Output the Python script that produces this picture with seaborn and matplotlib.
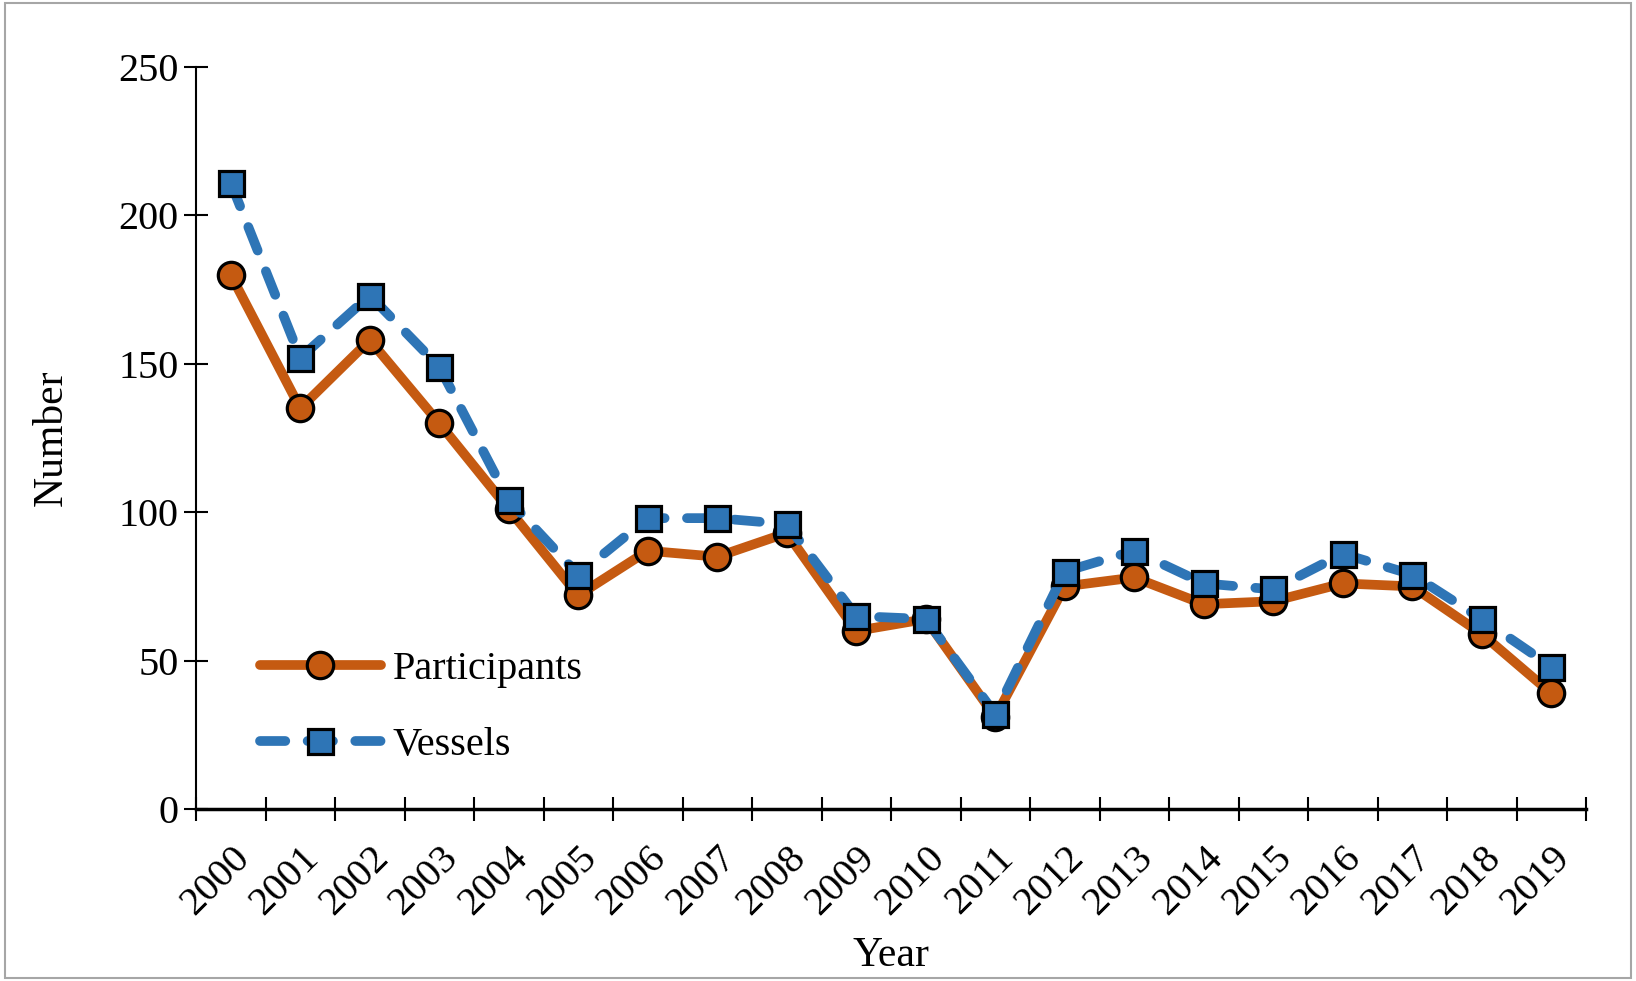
import matplotlib
matplotlib.use("Agg")
import matplotlib.pyplot as plt
import seaborn as sns
import pandas as pd
from matplotlib.patches import Rectangle

years = [str(y) for y in range(2000, 2020)]
participants = [180, 135, 158, 130, 101, 72, 87, 85, 93, 60,
                64, 31, 75, 78, 69, 70, 76, 75, 59, 39]
vessels = [211, 152, 173, 149, 104, 79, 98, 98, 96, 65,
           64, 32, 80, 87, 76, 74, 86, 79, 64, 48]

df = pd.DataFrame({"pos": range(len(years)), "Participants": participants, "Vessels": vessels})

sns.set_style("white")
plt.rcParams["font.family"] = ["Liberation Serif", "DejaVu Serif"]
plt.rcParams["font.size"] = 29
plt.rcParams["text.color"] = "black"
plt.rcParams["axes.labelcolor"] = "black"
plt.rcParams["xtick.color"] = "black"
plt.rcParams["ytick.color"] = "black"

fig = plt.figure(figsize=(16.36, 9.81), dpi=100)
ax = fig.add_axes([196 / 1636, 1 - 809 / 981, (1586 - 196) / 1636, (809 - 67) / 981])

# участники - сплошная оранжевая линия
sns.lineplot(data=df, x="pos", y="Participants", ax=ax, color="#C55A11", lw=7,
             marker="o", markersize=19, markerfacecolor="#C55A11",
             markeredgecolor="black", markeredgewidth=2.3, label="Participants")
# суда - синий пунктир
sns.lineplot(data=df, x="pos", y="Vessels", ax=ax, color="#2E75B6", lw=7,
             marker="s", markersize=18, markerfacecolor="#2E75B6",
             markeredgecolor="black", markeredgewidth=2.3, label="Vessels",
             dashes=False)
line = ax.get_lines()[-1]
line.set_dashes((2.6, 2.3))
line.set_dash_capstyle("round")

ax.set_xlim(-0.5, len(years) - 0.5)
ax.set_ylim(0, 250)
ax.set_yticks([0, 50, 100, 150, 200, 250])
ax.set_xticks([i - 0.5 for i in range(len(years) + 1)])
ax.set_xticklabels([])
ax.set_xticks(range(len(years)), minor=True)
ax.set_xticklabels(years, minor=True, rotation=45, ha="right", rotation_mode="anchor")
ax.tick_params(axis="x", which="major", bottom=True, direction="inout", length=17, width=1.5)
ax.tick_params(axis="x", which="minor", bottom=True, length=0, pad=22)
ax.tick_params(axis="y", left=True, direction="inout", length=17, width=1.5, pad=4)

for s in ["top", "right"]:
    ax.spines[s].set_visible(False)
ax.spines["left"].set_color("black")
ax.spines["left"].set_linewidth(1.5)
ax.spines["bottom"].set_color("black")
ax.spines["bottom"].set_linewidth(2.5)

ax.set_xlabel("Year", fontsize=30, labelpad=10)
ax.set_ylabel("Number", fontsize=30, labelpad=34)

ax.legend(loc="lower left", bbox_to_anchor=(0.02, 0.012), frameon=False,
          handlelength=3.0, labelspacing=0.95, fontsize=29, handletextpad=0.3)

fig.add_artist(Rectangle((0.003, 0.003), 0.994, 0.994, transform=fig.transFigure,
                         fill=False, edgecolor="#a6a6a6", lw=1.5))

fig.savefig("out.png", dpi=100)
plt.close()
